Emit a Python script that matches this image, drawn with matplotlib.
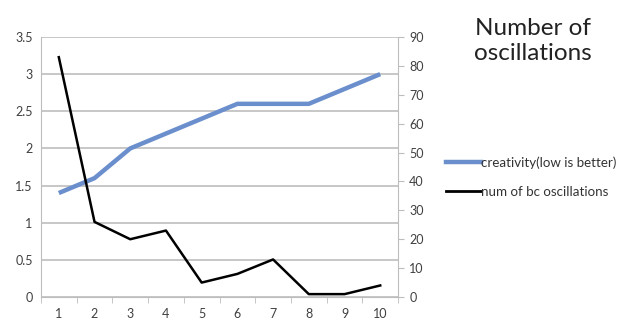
import matplotlib.pyplot as plt
from matplotlib.lines import Line2D

plt.rcParams['font.family'] = ['Lato', 'DejaVu Sans']

# trial number vs. scores
trials = [1, 2, 3, 4, 5, 6, 7, 8, 9, 10]
creativity = [1.4, 1.6, 2.0, 2.2, 2.4, 2.6, 2.6, 2.6, 2.8, 3.0]
oscillations = [83, 26, 20, 23, 5, 8, 13, 1, 1, 4]

left_ticks = [0, 0.5, 1, 1.5, 2, 2.5, 3, 3.5]
right_ticks = [0, 10, 20, 30, 40, 50, 60, 70, 80, 90]

blue = '#6a8fcc'
grid_col = '#bdbdbd'
txt_col = '#404040'

fig = plt.figure(figsize=(6.4, 3.36), dpi=100)
ax = fig.add_axes([0.064, 0.116, 0.558, 0.774])
ax2 = ax.twinx()

ax.plot(trials, creativity, color=blue, lw=3.2, solid_capstyle='butt', zorder=3)
ax2.plot(trials, oscillations, color='black', lw=1.8, zorder=4)

ax.set_xlim(0.5, 10.5)
ax.set_ylim(0, 3.5)
ax2.set_ylim(0, 90)

ax.set_yticks(left_ticks)
ax.set_yticklabels(['0', '0.5', '1', '1.5', '2', '2.5', '3', '3.5'])
ax2.set_yticks(right_ticks)
ax.set_xticks(trials)
ax.set_xticks([x + 0.5 for x in range(0, 11)], minor=True)

ax.grid(axis='y', color=grid_col, lw=1.2)
ax.set_axisbelow(True)

for a in (ax, ax2):
    for s in a.spines.values():
        s.set_visible(False)
ax.spines['left'].set_visible(True)
ax.spines['left'].set_color(grid_col)
ax.spines['bottom'].set_visible(True)
ax.spines['bottom'].set_color(grid_col)
ax2.spines['right'].set_visible(True)
ax2.spines['right'].set_color(grid_col)

ax.tick_params(axis='y', length=0, labelsize=9, labelcolor=txt_col, pad=6)
ax.tick_params(axis='x', which='major', length=0, labelsize=9, labelcolor=txt_col, pad=8)
ax.tick_params(axis='x', which='minor', length=4, color=grid_col, direction='out')
ax2.tick_params(axis='y', length=4, color=grid_col, labelsize=9, labelcolor=txt_col, pad=4)

fig.text(0.833, 0.877, 'Number of\noscillations', ha='center', va='center',
         fontsize=17.5, color='#222222', linespacing=1.25)

handles = [Line2D([], [], color=blue, lw=3.2),
           Line2D([], [], color='black', lw=2)]
fig.legend(handles, ['creativity(low is better)', 'num of bc oscillations'],
           loc='center left', bbox_to_anchor=(0.678, 0.473), frameon=False,
           fontsize=9.6, handlelength=2.6, handletextpad=0.05, labelspacing=1.25,
           labelcolor='#333333')

fig.savefig('out.png', dpi=100)
